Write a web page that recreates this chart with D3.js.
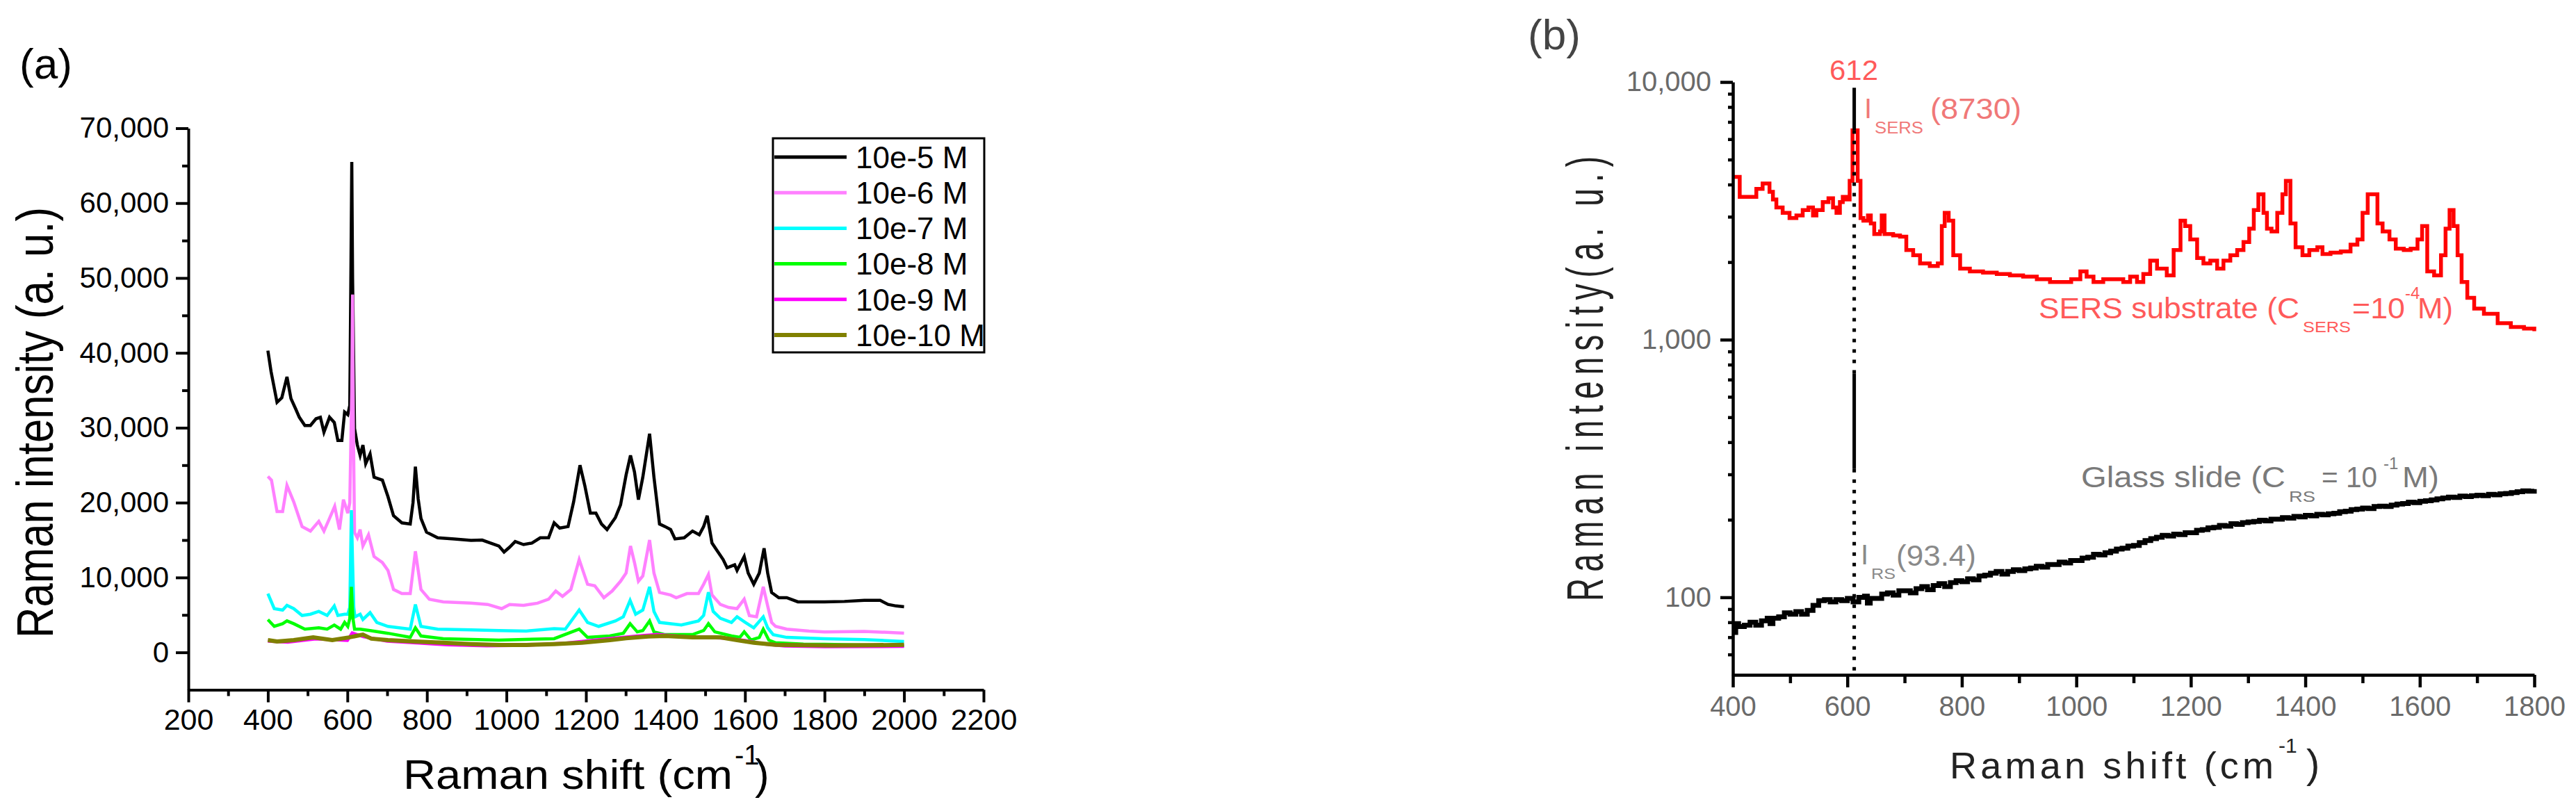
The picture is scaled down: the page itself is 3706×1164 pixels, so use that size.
<!DOCTYPE html>
<html><head><meta charset="utf-8">
<script src="https://cdn.jsdelivr.net/npm/d3@7"></script>
<style>
body{margin:0;background:#fff}
svg{display:block}
text{font-family:"Liberation Sans",Arial,Helvetica,sans-serif}
</style>
</head><body>
<svg id="chart" width="3706" height="1164"></svg>
<script>
// ---------------- DATA : panel (a) ----------------
const legendLabels = ["10e-5 M","10e-6 M","10e-7 M","10e-8 M","10e-9 M","10e-10 M"];
const seriesColors = ["#000000","#ff80ff","#00ffff","#00ff00","#ff00ff","#808000"];

const conc5 = [[400,40300],[408,37500],[423,33400],[435,34000],[448,36800],[458,33900],[470,32500],[479,31400],[493,30300],[507,30300],[521,31200],[532,31400],[541,29400],[555,31400],[567,30700],[576,28300],[586,28300],[593,32100],[601,31750],[606,33000],[609,52000],[611,65500],[613,50000],[618,29900],[625,27700],[632,26300],[639,27700],[646,25200],[657,26500],[667,23400],[688,23000],[702,20800],[716,18250],[737,17300],[758,17150],[765,20000],[771,24800],[778,20500],[785,17900],[799,16050],[827,15300],[869,15150],[911,14960],[939,15000],[960,14600],[981,14200],[994,13400],[1008,14050],[1022,14800],[1043,14400],[1064,14600],[1085,15300],[1106,15300],[1120,17300],[1134,16600],[1155,16800],[1169,20100],[1185,25000],[1197,22300],[1211,18600],[1225,18600],[1239,17150],[1253,16400],[1274,18000],[1287,19700],[1301,23700],[1312,26300],[1322,24100],[1332,20400],[1343,23400],[1360,29200],[1371,23400],[1385,17150],[1399,16800],[1413,16400],[1424,15150],[1447,15300],[1468,16200],[1485,15700],[1496,16800],[1505,18250],[1517,14600],[1531,13500],[1545,12400],[1555,11300],[1574,11700],[1580,10950],[1598,12800],[1608,10600],[1622,9100],[1636,10600],[1648,13900],[1657,10600],[1667,8000],[1685,7300],[1705,7300],[1733,6750],[1760,6750],[1800,6750],[1850,6800],[1900,6950],[1940,6950],[1960,6400],[1980,6200],[2000,6100]];

const conc6 = [[400,23500],[409,23000],[423,18800],[437,18800],[448,22300],[465,20100],[486,16800],[507,16200],[528,17500],[541,16200],[555,17900],[568,19500],[580,16400],[590,20400],[601,18600],[606,20000],[611,35000],[613,47800],[615,30000],[618,16000],[625,15300],[632,16400],[639,14200],[653,15700],[667,12800],[688,12000],[702,10950],[716,8400],[737,7850],[758,7850],[771,13500],[785,8400],[806,7100],[841,6750],[911,6570],[953,6400],[988,5840],[1008,6400],[1043,6280],[1078,6570],[1106,7100],[1124,8200],[1141,7480],[1162,8400],[1183,12400],[1204,9100],[1222,8900],[1245,7300],[1266,8200],[1287,9500],[1301,10600],[1312,14200],[1322,12000],[1332,9500],[1343,10200],[1360,15000],[1371,10600],[1385,8000],[1413,7660],[1427,7300],[1454,7850],[1483,7850],[1496,9100],[1508,10400],[1517,7660],[1538,6400],[1559,6000],[1580,5840],[1598,7100],[1611,4900],[1629,4750],[1646,8750],[1657,6200],[1667,4000],[1677,3470],[1705,3100],[1761,2850],[1800,2730],[1900,2800],[2000,2570]];

const conc7 = [[400,7850],[416,5840],[437,5650],[448,6280],[465,5840],[486,4930],[507,5100],[528,5470],[549,4930],[567,6200],[576,4930],[593,5100],[601,5100],[606,6000],[610,19000],[613,12000],[616,6000],[619,4750],[632,5100],[639,4400],[657,5300],[674,4000],[702,3470],[758,3100],[771,6400],[785,3470],[827,3100],[911,3000],[981,2920],[1050,2850],[1120,3170],[1148,3100],[1183,5650],[1204,4000],[1232,3470],[1274,4200],[1294,4750],[1311,6930],[1325,5100],[1343,5650],[1360,8750],[1371,5470],[1385,4000],[1440,3650],[1483,4200],[1496,4930],[1508,8030],[1520,5470],[1538,4560],[1566,4000],[1580,4750],[1601,4000],[1622,3280],[1646,4750],[1657,3280],[1671,2370],[1705,2000],[1800,1830],[1900,1700],[2000,1460]];

const conc8 = [[400,4380],[416,3470],[437,3830],[448,4200],[465,3830],[493,3100],[528,3280],[549,3100],[567,3650],[583,3100],[593,4000],[601,3470],[606,4500],[610,8750],[614,4500],[618,3100],[632,3100],[657,2920],[702,2550],[758,2000],[771,3280],[785,2190],[841,1830],[981,1640],[1120,1830],[1183,3100],[1204,2000],[1260,2190],[1294,2550],[1311,3830],[1329,2740],[1343,2920],[1360,4200],[1371,2740],[1399,2370],[1468,2370],[1496,2920],[1508,3830],[1524,2740],[1566,2190],[1587,2000],[1598,2740],[1615,1640],[1636,2000],[1646,3100],[1660,1640],[1677,1280],[1747,1100],[1800,1090],[2000,900]];

const conc9 = [[400,1500],[450,1350],[520,1800],[600,1600],[612,2600],[640,2100],[700,1500],[780,1250],[850,1000],[950,880],[1050,950],[1150,1250],[1250,1800],[1330,2200],[1380,2400],[1450,2100],[1550,1900],[1600,1600],[1650,1100],[1700,850],[1800,750],[2000,800]];

const conc10 = [[400,1640],[423,1460],[465,1640],[514,2000],[562,1640],[604,2000],[639,2370],[660,1830],[702,1640],[771,1460],[841,1280],[911,1100],[981,985],[1050,985],[1120,1100],[1190,1280],[1260,1640],[1301,1900],[1357,2120],[1399,2190],[1468,2000],[1538,2000],[1580,1640],[1622,1280],[1677,1020],[1817,910],[2000,1000]];

const xMajorA = [200,400,600,800,1000,1200,1400,1600,1800,2000,2200];
const xMinorA = [300,500,700,900,1100,1300,1500,1700,1900,2100];
const yMajorA = [0,10000,20000,30000,40000,50000,60000,70000];
const yMinorA = [5000,15000,25000,35000,45000,55000,65000];

// ---------------- DATA : panel (b) ----------------
const sersSpectrum = [[400,4285],[406,4285],[412,3584],[435,3584],[441,3850],[452,4037],[458,4037],[464,3750],[470,3499],[476,3260],[487,3108],[499,2964],[511,3035],[522,3184],[532,3260],[540,3035],[546,3184],[557,3418],[567,3540],[575,3260],[581,3108],[587,3418],[592,3584],[598,3499],[604,4134],[609,6494],[615,6494],[618,4134],[623,2964],[628,2894],[636,3035],[641,2825],[647,2570],[657,2630],[660,3035],[665,2570],[680,2540],[692,2509],[703,2229],[715,2125],[727,1977],[744,1931],[758,1977],[765,2760],[770,3108],[777,2894],[785,2125],[797,1886],[814,1841],[837,1820],[861,1798],[884,1777],[907,1756],[931,1715],[954,1675],[977,1675],[991,1715],[1007,1841],[1018,1756],[1030,1675],[1047,1715],[1065,1715],[1082,1675],[1094,1756],[1106,1675],[1117,1798],[1129,2026],[1141,1886],[1158,1777],[1170,2229],[1182,2894],[1190,2760],[1199,2449],[1211,2075],[1222,1977],[1234,2026],[1246,1886],[1257,2026],[1269,2125],[1281,2229],[1292,2393],[1302,2695],[1310,3184],[1318,3669],[1327,3108],[1333,2695],[1341,2630],[1351,3108],[1360,3669],[1366,4134],[1374,2825],[1383,2283],[1395,2125],[1407,2229],[1421,2283],[1430,2150],[1444,2176],[1462,2200],[1479,2338],[1491,2449],[1500,3108],[1509,3669],[1516,3669],[1526,2825],[1535,2630],[1547,2449],[1558,2255],[1572,2229],[1584,2255],[1596,2449],[1604,2760],[1613,1841],[1625,1777],[1637,2125],[1645,2695],[1652,3184],[1659,2760],[1666,2125],[1673,1675],[1683,1453],[1695,1320],[1712,1260],[1736,1159],[1759,1119],[1782,1105],[1800,1079]];

const glassSpectrum = [[400,73],[405,79],[410,77],[420,78],[430,80],[440,78],[450,81],[460,83],[465,79],[470,83],[480,84],[490,87],[500,86],[510,88],[520,86],[530,89],[540,93],[550,97],[560,98],[570,96],[580,98],[590,97],[600,99],[610,96],[620,100],[630,101],[635,95],[640,99],[650,99],[660,103],[670,104],[680,102],[690,106],[700,106],[710,104],[720,108],[730,110],[740,107],[750,111],[760,113],[770,110],[780,114],[790,116],[800,115],[810,118],[820,117],[830,121],[840,122],[850,124],[860,126],[870,123],[880,126],[890,128],[900,127],[910,129],[920,130],[930,132],[940,131],[950,134],[960,134],[970,137],[980,136],[990,139],[1000,139],[1010,142],[1020,143],[1030,147],[1040,146],[1050,149],[1060,151],[1070,154],[1080,155],[1090,158],[1100,159],[1110,163],[1120,166],[1130,169],[1140,171],[1150,174],[1160,173],[1170,176],[1180,175],[1190,178],[1200,178],[1210,182],[1220,183],[1230,186],[1240,187],[1250,190],[1260,189],[1270,193],[1280,192],[1290,195],[1300,196],[1310,197],[1320,199],[1330,198],[1340,201],[1350,201],[1360,204],[1370,203],[1380,206],[1390,205],[1400,208],[1410,207],[1420,210],[1430,209],[1440,211],[1450,212],[1460,215],[1470,216],[1480,219],[1490,220],[1500,222],[1510,221],[1520,225],[1530,226],[1540,225],[1550,228],[1560,230],[1570,231],[1580,234],[1590,233],[1600,236],[1610,237],[1620,239],[1630,241],[1640,243],[1650,245],[1660,244],[1670,247],[1680,246],[1690,248],[1700,249],[1710,248],[1720,251],[1730,250],[1740,252],[1750,253],[1760,255],[1770,257],[1780,259],[1790,258],[1800,263]];

const peakShift = 612;
// vertical marker segments (intensity range, style)
const markerSegments = [[9500,6494,"solid"],[6494,740,"dot"],[740,315,"solid"],[315,50,"dot"]];

const xMajorB = [400,600,800,1000,1200,1400,1600,1800];
const xMinorB = [500,700,900,1100,1300,1500,1700];
const yMajorB = [100,1000,10000];
const yMinorB = [60,70,80,90,200,300,400,500,600,700,800,900,2000,3000,4000,5000,6000,7000,8000,9000];

// ---------------- DRAW ----------------
const svg = d3.select("#chart");
const fmtComma = d3.format(",");

function styleAxis(g, w){
  g.selectAll(".domain").attr("stroke","#000").attr("stroke-width",w);
  g.selectAll(".tick line").attr("stroke","#000").attr("stroke-width",w);
}

// ===== Panel (a) =====
const xA = d3.scaleLinear().domain([200,2200]).range([271,1415]);
const yA = d3.scaleLinear().domain([-5000,70000]).range([992.5,184.5]);

const lineA = d3.line().x(d=>xA(d[0])).y(d=>yA(d[1]));
const seriesA = [conc5,conc6,conc7,conc8,conc9,conc10];
const widthsA = [4.5,4.5,4.5,4.5,4.5,6];
// plotted in legend order: later series drawn on top
seriesA.forEach((s,i)=>{
  svg.append("path").datum(s).attr("d",lineA)
    .attr("fill","none").attr("stroke",seriesColors[i])
    .attr("stroke-width",widthsA[i]).attr("stroke-linejoin","miter");
});

// x axis (a)
const gxA = svg.append("g").attr("transform","translate(0,992.5)")
  .call(d3.axisBottom(xA).tickValues(xMajorA).tickSize(18).tickSizeOuter(0).tickPadding(9).tickFormat(d3.format("d")));
styleAxis(gxA,4);
gxA.selectAll("text").attr("font-size",43).attr("fill","#000");
const gxAm = svg.append("g").attr("transform","translate(0,992.5)")
  .call(d3.axisBottom(xA).tickValues(xMinorA).tickSize(9).tickFormat(""));
gxAm.select(".domain").remove(); styleAxis(gxAm,4);

// y axis (a)
const gyA = svg.append("g").attr("transform","translate(271,0)")
  .call(d3.axisLeft(yA).tickValues(yMajorA).tickSize(18).tickSizeOuter(0).tickPadding(10).tickFormat(fmtComma));
styleAxis(gyA,4);
gyA.selectAll("text").attr("font-size",42).attr("fill","#000");
const gyAm = svg.append("g").attr("transform","translate(271,0)")
  .call(d3.axisLeft(yA).tickValues(yMinorA).tickSize(9).tickFormat(""));
gyAm.select(".domain").remove(); styleAxis(gyAm,4);

// titles (a)
svg.append("text").attr("x",28).attr("y",113).attr("font-size",62).text("(a)");
svg.append("text").attr("transform","translate(76,608) rotate(-90) scale(1,1.2)")
  .attr("text-anchor","middle").attr("font-size",62)
  .attr("textLength",620).attr("lengthAdjust","spacingAndGlyphs")
  .text("Raman intensity (a. u.)");
svg.append("text").attr("x",580).attr("y",1135).attr("font-size",60)
  .attr("textLength",474).attr("lengthAdjust","spacingAndGlyphs").text("Raman shift (cm");
svg.append("text").attr("x",1057).attr("y",1100).attr("font-size",40).text("-1");
svg.append("text").attr("x",1086).attr("y",1135).attr("font-size",62).text(")");

// legend (a)
const leg = svg.append("g");
leg.append("rect").attr("x",1112).attr("y",199).attr("width",304).attr("height",308)
  .attr("fill","#fff").attr("stroke","#000").attr("stroke-width",3);
legendLabels.forEach((lab,i)=>{
  const yy = 226 + i*51.2;
  leg.append("line").attr("x1",1114).attr("x2",1218).attr("y1",yy).attr("y2",yy)
    .attr("stroke",seriesColors[i]).attr("stroke-width",i===5?6:5);
  leg.append("text").attr("x",1231).attr("y",yy).attr("dy","0.36em")
    .attr("font-size",44).text(lab);
});

// ===== Panel (b) =====
const xB = d3.scaleLinear().domain([400,1800]).range([2493,3646]);
const yB = d3.scaleLog().domain([50,10000]).range([971,118]);
const stepLine = d3.line().x(d=>xB(d[0])).y(d=>yB(d[1])).curve(d3.curveStepAfter);

svg.append("path").datum(glassSpectrum).attr("d",stepLine)
  .attr("fill","none").attr("stroke","#000").attr("stroke-width",7);
svg.append("path").datum(sersSpectrum).attr("d",stepLine)
  .attr("fill","none").attr("stroke","#ff0000").attr("stroke-width",5.5);

// vertical marker at 612
markerSegments.forEach(s=>{
  svg.append("line").attr("x1",xB(peakShift)).attr("x2",xB(peakShift))
    .attr("y1",yB(s[0])).attr("y2",yB(s[1]))
    .attr("stroke","#000").attr("stroke-width",5)
    .attr("stroke-dasharray", s[2]==="dot" ? "5,10" : null);
});

// x axis (b)
const gxB = svg.append("g").attr("transform","translate(0,971)")
  .call(d3.axisBottom(xB).tickValues(xMajorB).tickSize(18).tickSizeOuter(0).tickPadding(13).tickFormat(d3.format("d")));
styleAxis(gxB,4.5);
gxB.selectAll("text").attr("font-size",40).attr("fill","#6a6a6a");
const gxBm = svg.append("g").attr("transform","translate(0,971)")
  .call(d3.axisBottom(xB).tickValues(xMinorB).tickSize(12).tickFormat(""));
gxBm.select(".domain").remove(); styleAxis(gxBm,4.5);

// y axis (b)
const gyB = svg.append("g").attr("transform","translate(2493,0)")
  .call(d3.axisLeft(yB).tickValues(yMajorB).tickSize(18).tickSizeOuter(0).tickPadding(13).tickFormat(fmtComma));
styleAxis(gyB,4.5);
gyB.selectAll("text").attr("font-size",40).attr("fill","#6a6a6a");
const gyBm = svg.append("g").attr("transform","translate(2493,0)")
  .call(d3.axisLeft(yB).tickValues(yMinorB).tickSize(7).tickFormat(""));
gyBm.select(".domain").remove(); styleAxis(gyBm,4.5);

// titles (b)
svg.append("text").attr("x",2198).attr("y",71).attr("font-size",62).attr("fill","#444").text("(b)");
svg.append("text").attr("transform","translate(2306,545) rotate(-90) scale(1,1.6)")
  .attr("text-anchor","middle").attr("font-size",46).attr("fill","#222")
  .attr("textLength",640).attr("lengthAdjust","spacing")
  .text("Raman intensity(a. u.)");
svg.append("text").attr("x",2805).attr("y",1120).attr("font-size",54).attr("fill","#222")
  .attr("textLength",466).attr("lengthAdjust","spacing").text("Raman shift (cm");
svg.append("text").attr("x",3278).attr("y",1083).attr("font-size",30).attr("fill","#222").text("-1");
svg.append("text").attr("x",3318).attr("y",1119).attr("font-size",58).attr("fill","#222").text(")");

// annotations (b)
function lbl(x,y,size,fill,txt,len){
  const t = svg.append("text").attr("x",x).attr("y",y).attr("font-size",size).attr("fill",fill).text(txt);
  if(len) t.attr("textLength",len).attr("lengthAdjust","spacingAndGlyphs");
  return t;
}
const redTxt = "#ff5a5a", pinkTxt = "#f07878", grayTxt = "#7a7a7a";
lbl(2632,115,40,redTxt,"612",70);
lbl(2682,170,40,pinkTxt,"I");
lbl(2697,192,24,pinkTxt,"SERS",70);
lbl(2777,171,42,pinkTxt,"(8730)",131);

lbl(2933,458,42,redTxt,"SERS substrate (C",375);
lbl(3313,478,22,redTxt,"SERS",69);
lbl(3384,458,42,redTxt,"=10",76);
lbl(3460,430,24,redTxt,"-4");
lbl(3478,458,42,redTxt,"M)",51);

lbl(2994,701,42,grayTxt,"Glass slide (C",294);
lbl(3293,722,22,grayTxt,"RS",38);
lbl(3340,701,42,grayTxt,"= 10",80);
lbl(3429,675,24,grayTxt,"-1");
lbl(3456,701,42,grayTxt,"M)",53);

lbl(2677,812,40,"#8a8a8a","I");
lbl(2692,833,22,"#8a8a8a","RS",35);
lbl(2728,814,42,"#8a8a8a","(93.4)",115);
</script>
</body></html>
